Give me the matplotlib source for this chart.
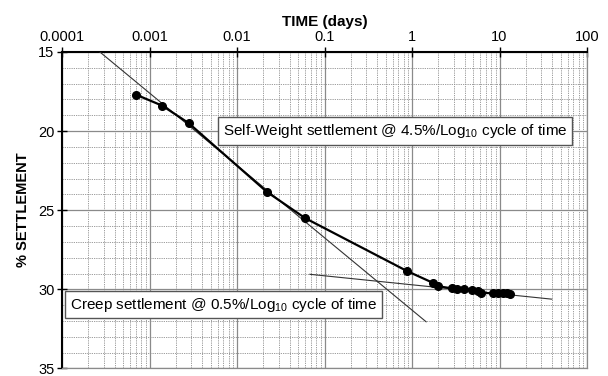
import matplotlib
matplotlib.use("Agg")
import matplotlib.pyplot as plt
import numpy as np
from matplotlib.ticker import LogLocator, MultipleLocator, FixedLocator, NullFormatter

plt.rcParams["font.family"] = ["Liberation Sans", "DejaVu Sans"]
plt.rcParams["mathtext.default"] = "regular"

# Measured settlement data
time_days = [0.0007, 0.0014, 0.0028, 0.022, 0.06, 0.88, 1.75, 1.97, 2.85, 3.3,
             3.9, 4.8, 5.7, 6.2, 8.5, 9.6, 11.1, 12.3, 13.2]
settlement = [17.7, 18.4, 19.5, 23.85, 25.5, 28.85, 29.6, 29.8, 29.94, 29.95,
              29.98, 30.02, 30.12, 30.22, 30.25, 30.25, 30.25, 30.26, 30.27]

# Fitted trend lines (end points)
sw_t = [0.00027, 1.45]
sw_s = [15.0, 32.05]
creep_t = [0.068, 39.5]
creep_s = [29.05, 30.62]

x_ticks = [0.0001, 0.001, 0.01, 0.1, 1, 10, 100]
x_labels = ["0.0001", "0.001", "0.01", "0.1", "1", "10", "100"]
y_ticks = [15, 20, 25, 30, 35]

fig = plt.figure(figsize=(6.08, 3.76), dpi=100)
ax = fig.add_axes([0.102, 0.02, 0.8635, 0.842])

ax.set_xscale("log")
ax.set_xlim(0.0001, 100)
ax.set_ylim(35, 15)

# grids
ax.xaxis.set_major_locator(FixedLocator(x_ticks))
ax.xaxis.set_minor_locator(LogLocator(base=10, subs=np.arange(2, 10)))
ax.xaxis.set_minor_formatter(NullFormatter())
ax.yaxis.set_major_locator(FixedLocator(y_ticks))
ax.yaxis.set_minor_locator(MultipleLocator(1))
ax.grid(which="major", color="#8a8a8a", linewidth=0.9, linestyle="-")
ax.grid(which="minor", color="#8f8f8f", linewidth=0.6, linestyle=(0, (1.5, 1.2)))
ax.set_axisbelow(True)

ax.plot(sw_t, sw_s, color="#333333", linewidth=0.8, zorder=3)
ax.plot(creep_t, creep_s, color="#333333", linewidth=0.8, zorder=3)
ax.plot(time_days, settlement, color="black", linewidth=1.6, marker="o",
        markersize=5.5, zorder=4)

box = dict(boxstyle="square,pad=0.3", facecolor="white", edgecolor="#555555", linewidth=1)
ax.text(0.0069, 20.0, "Self-Weight settlement @ 4.5%/Log$_{10}$ cycle of time",
        fontsize=11, ha="left", va="center", bbox=box, zorder=5)
ax.text(0.000123, 30.97, "Creep settlement @ 0.5%/Log$_{10}$ cycle of time",
        fontsize=11, ha="left", va="center", bbox=box, zorder=5)

ax.xaxis.tick_top()
ax.xaxis.set_label_position("top")
ax.set_xticklabels(x_labels)
ax.set_xlabel("TIME (days)", fontsize=11, fontweight="bold", labelpad=3)
ax.set_ylabel("% SETTLEMENT", fontsize=10.5, fontweight="bold", labelpad=6)

ax.tick_params(axis="both", which="major", direction="inout", length=7,
               width=1, labelsize=10.5, colors="black")
ax.tick_params(axis="both", which="minor", length=0)
ax.tick_params(axis="x", pad=2)
ax.tick_params(axis="y", pad=2)

for side in ["top", "left"]:
    ax.spines[side].set_linewidth(1.5)
    ax.spines[side].set_color("black")
for side in ["bottom", "right"]:
    ax.spines[side].set_linewidth(0.9)
    ax.spines[side].set_color("#8a8a8a")

fig.savefig("out.png", dpi=100, facecolor="white")
